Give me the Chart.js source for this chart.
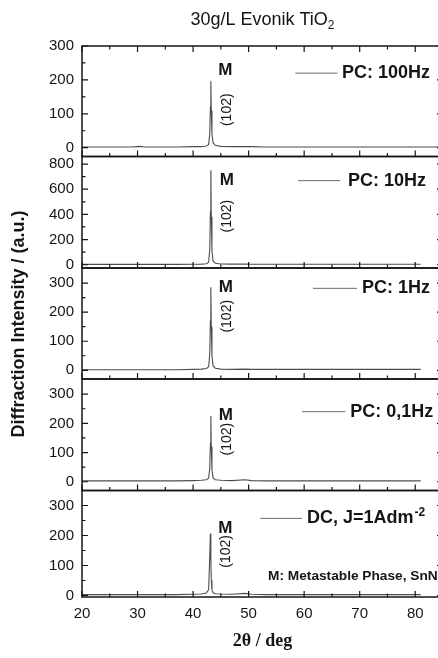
<!DOCTYPE html>
<html>
<head>
<meta charset="utf-8">
<script src="https://cdn.jsdelivr.net/npm/chart.js@4.4.0/dist/chart.umd.min.js"></script>
<style>
  html, body { margin: 0; padding: 0; background: #fff; overflow: hidden; }
  canvas { display: block; }
</style>
</head>
<body>
<canvas id="xrd" width="450" height="658"></canvas>
<script>
// 2θ sampling points shared by every pattern
const twoTheta = [20, 23, 26, 29, 30.2, 31.5, 34, 37, 40, 41.5, 42.4, 42.8, 43.0, 43.12, 43.2, 43.28, 43.4, 43.6, 44.0, 45, 47, 49.4, 50.5, 53, 57, 61, 65, 69, 73, 77, 81, 83, 85];

// intensities (a.u.), top panel to bottom panel
const pc100Hz = [2, 2, 2, 2, 4, 2, 2, 2, 3, 3, 5, 9, 40, 120, 196, 110, 40, 14, 7, 4, 3, 3, 3, 2, 2, 2, 2, 2, 2, 2, 2, 2, 2];
const pc10Hz  = [3, 3, 3, 3, 3, 3, 3, 3, 4, 5, 8, 20, 120, 420, 750, 380, 110, 30, 12, 6, 5, 5, 4, 4, 4, 4, 4, 4, 4, 4, 4, null, null];
const pc1Hz   = [2, 2, 2, 2, 2, 2, 2, 2, 3, 4, 6, 12, 55, 170, 286, 150, 50, 15, 7, 4, 3, 4, 3, 3, 3, 3, 3, 3, 3, 3, 3, null, null];
const pc01Hz  = [3, 3, 3, 3, 3, 3, 3, 3, 4, 5, 7, 12, 45, 130, 225, 120, 40, 13, 7, 5, 4, 7, 4, 3, 3, 3, 3, 3, 3, 3, 3, null, null];
const dc1A    = [3, 3, 3, 3, 3, 3, 3, 3, 4, 5, 8, 20, 130, 207, 120, 50, 18, 9, 6, 5, 4, 7, 4, 3, 3, 3, 3, 3, 3, 3, 3, null, null];

const seriesLabels = ['PC: 100Hz', 'PC: 10Hz', 'PC: 1Hz', 'PC: 0,1Hz', 'DC, J=1Adm'];
const seriesLabelSup = ['', '', '', '', '-2'];

const xTicks = [20, 30, 40, 50, 60, 70, 80];
const yTicks = [
  [0, 100, 200, 300],
  [0, 200, 400, 600, 800],
  [0, 100, 200, 300],
  [0, 100, 200, 300],
  [0, 100, 200, 300],
];
const yRanges = [[-26, 300], [-26, 860], [-30, 352], [-30, 352], [-5, 350]];

const series = [pc100Hz, pc10Hz, pc1Hz, pc01Hz, dc1A];
const panelIds = ['p1', 'p2', 'p3', 'p4', 'p5'];
const panelWeights = [110.5, 111.5, 111, 111.5, 106.5];

// where the annotations sit, in data units of each panel
const peakMarkAt = [{ x: 45.8, y: 229 }, { x: 46.1, y: 668 }, { x: 45.9, y: 284 }, { x: 45.9, y: 228 }, { x: 45.8, y: 225 }];
const hklAt = [{ x: 46.15, y: 112 }, { x: 46.1, y: 386 }, { x: 46.1, y: 186 }, { x: 46.15, y: 146 }, { x: 45.9, y: 147 }];
const legendAt = [
  { x1: 58.4, x2: 66.0, tx: 66.8, y: 220 },
  { x1: 58.9, x2: 66.5, tx: 67.9, y: 668 },
  { x1: 61.6, x2: 69.5, tx: 70.4, y: 282 },
  { x1: 59.6, x2: 67.4, tx: 68.3, y: 240 },
  { x1: 52.1, x2: 59.6, tx: 60.5, y: 257 },
];

const SANS = '"Liberation Sans", Arial, sans-serif';
const INK = '#151515';

// ─── frames, inward ticks and text on each panel ───
const panelDecor = {
  id: 'panelDecor',
  afterDraw(chart) {
    const { ctx, chartArea, scales } = chart;
    const xs = scales.x;
    const left = chartArea.left, right = chartArea.right;
    ctx.save();
    ctx.strokeStyle = INK;
    ctx.fillStyle = INK;

    panelIds.forEach((id, i) => {
      const ys = scales[id];
      const top = ys.top, bottom = ys.bottom;

      // x ticks (major every 10, minor halfway)
      ctx.lineWidth = 1.2;
      ctx.beginPath();
      xTicks.forEach((v) => {
        const px = xs.getPixelForValue(v);
        ctx.moveTo(px, bottom); ctx.lineTo(px, bottom - 6);
        if (i === 0) { ctx.moveTo(px, top); ctx.lineTo(px, top + 6); }
        const pm = xs.getPixelForValue(v + 5);
        ctx.moveTo(pm, bottom); ctx.lineTo(pm, bottom - 3.5);
        if (i === 0) { ctx.moveTo(pm, top); ctx.lineTo(pm, top + 3.5); }
      });
      // y ticks on both sides
      const t = yTicks[i];
      t.forEach((v, k) => {
        const py = ys.getPixelForValue(v);
        ctx.moveTo(left, py); ctx.lineTo(left + 6, py);
        ctx.moveTo(right, py); ctx.lineTo(right - 6, py);
        if (k < t.length - 1) {
          const pm = ys.getPixelForValue((v + t[k + 1]) / 2);
          ctx.moveTo(left, pm); ctx.lineTo(left + 3.5, pm);
          ctx.moveTo(right, pm); ctx.lineTo(right - 3.5, pm);
        }
      });
      ctx.stroke();

      // frame
      ctx.lineWidth = 1.5;
      ctx.strokeRect(left, top, right - left, bottom - top);

      // peak label and reflection index
      ctx.textAlign = 'center';
      ctx.textBaseline = 'middle';
      ctx.font = 'bold 17px ' + SANS;
      ctx.fillText('M', xs.getPixelForValue(peakMarkAt[i].x), ys.getPixelForValue(peakMarkAt[i].y));
      ctx.save();
      ctx.translate(xs.getPixelForValue(hklAt[i].x), ys.getPixelForValue(hklAt[i].y));
      ctx.rotate(-Math.PI / 2);
      ctx.font = '14px ' + SANS;
      ctx.fillText('(102)', 0, 0);
      ctx.restore();

      // legend entry
      const lg = legendAt[i];
      const ly = ys.getPixelForValue(lg.y);
      ctx.save();
      ctx.strokeStyle = '#6a6a6a';
      ctx.lineWidth = 1;
      ctx.beginPath();
      ctx.moveTo(xs.getPixelForValue(lg.x1), ly);
      ctx.lineTo(xs.getPixelForValue(lg.x2), ly);
      ctx.stroke();
      ctx.restore();
      ctx.textAlign = 'left';
      ctx.font = 'bold 18px ' + SANS;
      const tx = xs.getPixelForValue(lg.tx);
      ctx.fillText(seriesLabels[i], tx, ly);
      if (seriesLabelSup[i]) {
        const w = ctx.measureText(seriesLabels[i]).width;
        ctx.font = 'bold 12px ' + SANS;
        ctx.fillText(seriesLabelSup[i], tx + w + 1, ly - 6);
      }
    });

    // phase note in the bottom panel
    const yb = scales.p5;
    ctx.textAlign = 'left';
    ctx.textBaseline = 'middle';
    ctx.font = 'bold 13.7px ' + SANS;
    ctx.fillText('M: Metastable Phase, SnNi', xs.getPixelForValue(53.5), yb.getPixelForValue(65));

    // chart title with subscript
    ctx.font = '18px ' + SANS;
    const main = '30g/L Evonik TiO';
    const wMain = ctx.measureText(main).width;
    ctx.font = '12px ' + SANS;
    const wSub = ctx.measureText('2').width;
    const cx = (left + right) / 2;
    const x0 = cx - (wMain + wSub) / 2;
    ctx.font = '18px ' + SANS;
    ctx.fillText(main, x0, 20);
    ctx.font = '12px ' + SANS;
    ctx.fillText('2', x0 + wMain, 26);

    // axis titles
    ctx.textAlign = 'center';
    ctx.font = 'bold 18px "Liberation Serif", "Times New Roman", serif';
    ctx.fillText('2θ / deg', cx, 641);
    ctx.save();
    ctx.translate(19, 324);
    ctx.rotate(-Math.PI / 2);
    ctx.font = 'bold 18px ' + SANS;
    ctx.fillText('Diffraction Intensity / (a.u.)', 0, 0);
    ctx.restore();

    ctx.restore();
  }
};

const datasets = series.map((vals, i) => ({
  label: seriesLabels[i],
  data: twoTheta.map((t, k) => ({ x: t, y: vals[k] })).filter(p => p.y !== null),
  xAxisID: 'x',
  yAxisID: panelIds[i],
  borderColor: '#4d4d4d',
  borderWidth: 1.1,
  pointRadius: 0,
  tension: 0,
  fill: false,
}));

const scales = {
  x: {
    type: 'linear',
    min: 20,
    max: 85,
    grid: { display: false, drawTicks: false },
    border: { display: false },
    afterBuildTicks: (s) => { s.ticks = xTicks.map(v => ({ value: v })); },
    afterFit: (s) => { s.height = 61; },
    ticks: { color: INK, font: { family: SANS, size: 15 }, padding: 8, maxRotation: 0, autoSkip: false },
  },
};
// stacked left axes are laid out bottom-up, so register the lowest panel first
for (let i = panelIds.length - 1; i >= 0; i--) {
  scales[panelIds[i]] = {
    type: 'linear',
    position: 'left',
    stack: 'xrd',
    stackWeight: panelWeights[i],
    offset: false,
    min: yRanges[i][0],
    max: yRanges[i][1],
    grid: { display: false, drawTicks: false },
    border: { display: false },
    afterBuildTicks: (s) => { s.ticks = yTicks[i].map(v => ({ value: v })); },
    afterFit: (s) => { s.width = 82; },
    ticks: { color: INK, font: { family: SANS, size: 15 }, padding: 8, autoSkip: false },
  };
}

new Chart(document.getElementById('xrd'), {
  type: 'line',
  data: { datasets },
  options: {
    responsive: false,
    animation: false,
    layout: { padding: { top: 46, left: 0, right: 7, bottom: 0 } },
    plugins: { legend: { display: false }, tooltip: { enabled: false } },
    scales,
  },
  plugins: [panelDecor],
});
</script>
</body>
</html>
